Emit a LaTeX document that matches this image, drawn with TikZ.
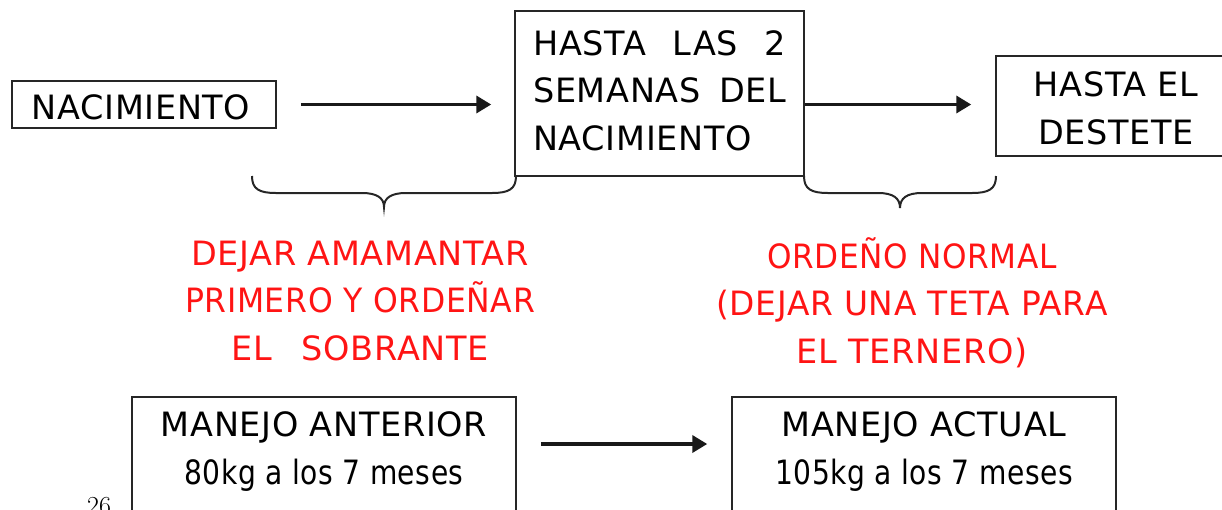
\documentclass[tikz,border=0pt]{standalone}
\usepackage{fontspec}
\newfontfamily\comicfont[LetterSpace=2]{DejaVu Sans}
\usetikzlibrary{arrows.meta}
\definecolor{redtxt}{RGB}{255,20,20}
\newcommand{\lowline}[1]{\scalebox{0.84}[1]{#1}}
\tikzset{
  box/.style={draw=black!85, line width=1.5pt, rectangle, inner sep=0pt},
  txt/.style={font=\comicfont\fontsize{33.5}{47.5}\selectfont, inner sep=0pt, anchor=base},
  redlbl/.style={txt, text=redtxt, align=center},
  arr/.style={draw=black!90, line width=3.6pt, -{Triangle[length=15pt,width=17pt]}},
  bracepath/.style={draw=black!85, line width=2pt},
}
\begin{document}
\begin{tikzpicture}[x=1pt,y=-1pt]
\useasboundingbox (0,0) rectangle (1222,509);
\clip (0,0) rectangle (1222,509);
% top row boxes
\node[box, minimum width=264pt, minimum height=47pt] (nac) at (144,104.5) {};
\node[txt] (nact) at (141,119) {NACIMIENTO};
\node[box, minimum width=289pt, minimum height=165pt] (mid) at (659.5,93.5) {};
\node[txt, align=left, anchor=base west] (midt) at (533,150)
  {\makebox[253pt][s]{HASTA\hfill LAS\hfill 2}\\
   \makebox[253pt][s]{SEMANAS\hfill DEL}\\
   NACIMIENTO};
\node[box, minimum width=250pt, minimum height=100pt] (des) at (1121,106) {};
\node[txt, align=center] (dest) at (1116,144) {HASTA EL\\DESTETE};
% top arrows
\draw[arr] ([xshift=24pt]nac.east) -- ([xshift=-23pt]nac.east -| mid.west);
\draw[arr] (mid.east |- nac.east) -- ([xshift=-24pt]des.west |- nac.east);
% braces
\coordinate (b1l) at (252,176);
\coordinate (b1r) at (516,176);
\coordinate (b1t) at (384,207);
\draw[bracepath] (b1l) .. controls (252,189) and (259,193) .. (276,193)
  -- (362,193) .. controls (377,193) and (384,198) .. (b1t)
  .. controls (384,198) and (391,193) .. (406,193)
  -- (492,193) .. controls (509,193) and (516,189) .. (b1r);
\coordinate (b2l) at (804,176);
\coordinate (b2r) at (996,176);
\coordinate (b2t) at (900,208);
\draw[bracepath] (b2l) .. controls (804,189) and (811,193) .. (828,193)
  -- (878,193) .. controls (893,193) and (900,198) .. (b2t)
  .. controls (900,198) and (907,193) .. (922,193)
  -- (972,193) .. controls (989,193) and (996,189) .. (b2r);
% red labels
\node[redlbl] (r1) at (360,360) {DEJAR AMAMANTAR\\\scalebox{0.94}[1]{PRIMERO Y ORDEÑAR}\\EL\hspace{0.9em}SOBRANTE};
\node[redlbl] (r2) at (912,363) {\scalebox{0.93}[1]{ORDEÑO NORMAL}\\\scalebox{0.98}[1]{(DEJAR UNA TETA PARA}\\EL TERNERO)};
% bottom boxes
\node[box, minimum width=384pt, minimum height=200pt, anchor=north] (ant) at (324,396) {};
\node[txt, align=center] (antt) at (324,484) {MANEJO ANTERIOR\\\lowline{80kg a los 7 meses}};
\node[box, minimum width=384pt, minimum height=200pt, anchor=north] (act) at (924,396) {};
\node[txt, align=center] (actt) at (924,484) {MANEJO ACTUAL\\\lowline{105kg a los 7 meses}};
\draw[arr] ([xshift=24pt,yshift=-48pt]ant.north east) -- ([xshift=-24pt,yshift=-48pt]act.north west);
% page number (cut off by the lower edge, as in the reference)
\node[font=\fontsize{26}{30}\selectfont, anchor=base, inner sep=0pt] (pg) at (99,514) {26};
\end{tikzpicture}
\end{document}
